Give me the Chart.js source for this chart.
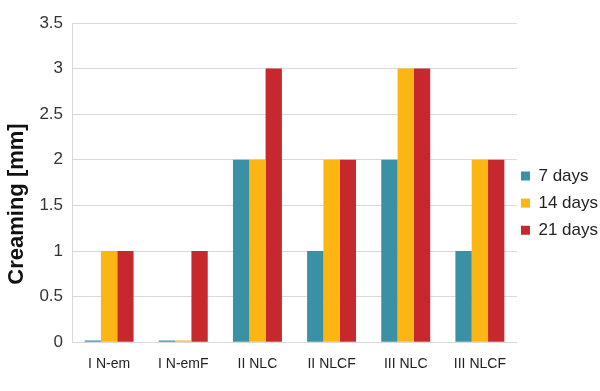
<!DOCTYPE html>
<html>
<head>
<meta charset="utf-8">
<script src="https://cdn.jsdelivr.net/npm/chart.js@4"></script>
<style>
  html, body { margin: 0; padding: 0; background: #fff; }
  #wrap { width: 600px; height: 391px; }
</style>
</head>
<body>
<div id="wrap"><canvas id="chart"></canvas></div>
<script>
////////////////////////////////////////////////////////////////////////
// Data
const categories = ["I N-em", "I N-emF", "II NLC", "II NLCF", "III NLC", "III NLCF"]
const days7 = [0.02, 0.02, 2, 1, 2, 1]
const days14 = [1, 0.02, 2, 2, 3, 2]
const days21 = [1, 1, 3, 2, 3, 2]
const seriesLabels = ["7 days", "14 days", "21 days"]
const yTicks = [0, 0.5, 1, 1.5, 2, 2.5, 3, 3.5]

////////////////////////////////////////////////////////////////////////
// Styles
const colors = ["#3a90a5", "#fcb614", "#c6282e"]
const font = "'Liberation Sans', Arial, sans-serif"

function dataset(i, values) {
    return {
        label: seriesLabels[i],
        data: values,
        backgroundColor: colors[i],
        borderWidth: 0,
        categoryPercentage: 0.66,
        barPercentage: 1.0
    }
}

new Chart(document.getElementById("chart"), {
    type: "bar",
    data: {
        labels: categories,
        datasets: [
            dataset(0, days7),
            dataset(1, days14),
            dataset(2, days21)
        ]
    },
    options: {
        responsive: true,
        maintainAspectRatio: false,
        animation: false,
        layout: {
            padding: { left: 0, right: -8, top: 23, bottom: 12 }
        },
        plugins: {
            tooltip: { enabled: false },
            legend: {
                position: "right",
                // blank title only pushes the items down a little
                title: { display: true, text: " ", font: { size: 7 }, padding: 1 },
                labels: {
                    usePointStyle: true,
                    pointStyle: "rect",
                    boxWidth: 9,
                    boxHeight: 9,
                    padding: 4,
                    color: "#222",
                    font: { family: font, size: 17, lineHeight: 1.36 },
                    // one-line arrays so the row height follows lineHeight
                    generateLabels: chart => {
                        const items = Chart.defaults.plugins.legend.labels.generateLabels(chart)
                        return items.map(item => Object.assign(item, { text: [item.text] }))
                    }
                }
            }
        },
        scales: {
            x: {
                grid: { display: false },
                border: { display: true, color: "#d9d9d9", width: 1 },
                ticks: {
                    color: "#222",
                    padding: 6,
                    font: { family: font, size: 14 }
                }
            },
            y: {
                min: 0,
                max: 3.5,
                afterBuildTicks: axis => {
                    axis.ticks = yTicks.map(v => ({ value: v }))
                },
                grid: { color: "#d9d9d9", drawTicks: false },
                border: { display: true, color: "#d9d9d9" },
                ticks: {
                    color: "#333",
                    padding: 9,
                    font: { family: font, size: 17 },
                    callback: v => String(v)
                },
                title: {
                    display: true,
                    // trailing blanks push the visible text a bit lower
                    text: "Creaming [mm]" + "\u00a0".repeat(7),
                    color: "#111",
                    font: { family: font, size: 22, weight: "bold" },
                    padding: { top: 4, bottom: 0 }
                }
            }
        }
    }
})
</script>
</body>
</html>
